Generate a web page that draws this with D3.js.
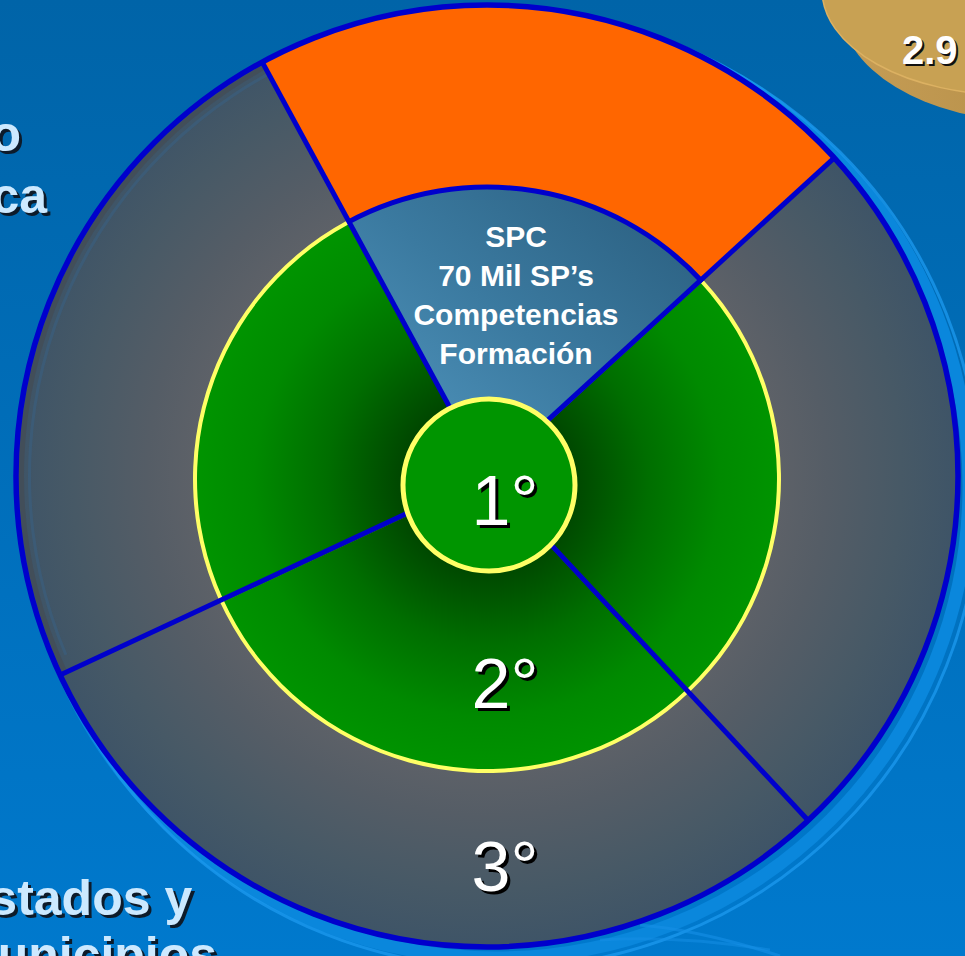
<!DOCTYPE html>
<html>
<head>
<meta charset="utf-8">
<script src="https://cdn.jsdelivr.net/npm/d3@7"></script>
<style>
  html, body { margin: 0; padding: 0; background: #0068ad; overflow: hidden; }
  svg { display: block; }
  text { font-family: "Liberation Sans", Arial, sans-serif; }
</style>
</head>
<body>
<script>
// ---- data ----
const levels = ["1°", "2°", "3°"];
const sectorEdges = [-28.5, 47.5, 137, 245, 331.5];          // degrees, clockwise from 12 o'clock
const outerSectorKinds = ["focus", "rest", "rest", "rest"];
const middleSectorKinds = ["focus", "rest", "rest", "rest"];
const focusLines = ["SPC", "70 Mil SP’s", "Competencias", "Formación"];
const sideLinesTop = ["o", "ca"];
const sideLinesBottom = ["Estados y", "Municipios"];
const badgeValue = "2.9";

// ---- layout ----
const W = 965, H = 956;
const C = { x: 487, y: 476 };       // outer ring centre
const CM = { x: 487, y: 479 };      // middle ring centre
const CI = { x: 489, y: 485 };      // inner disc centre
const R_OUT = 471, R_MID = 292, R_IN = 86;

const rad = d3.scaleLinear().domain([0, 360]).range([0, 2 * Math.PI]);

const svg = d3.select("body").append("svg").attr("width", W).attr("height", H);
const defs = svg.append("defs");

// background
const bg = defs.append("linearGradient").attr("id", "bg").attr("x1", 0).attr("y1", 0).attr("x2", 0).attr("y2", 1);
bg.append("stop").attr("offset", 0).attr("stop-color", "#0064a8");
bg.append("stop").attr("offset", 1).attr("stop-color", "#0079cd");
svg.append("rect").attr("width", W).attr("height", H).attr("fill", "url(#bg)");

// gray ring shading (group-local coordinates)
const gg = defs.append("radialGradient").attr("id", "grayRing").attr("gradientUnits", "userSpaceOnUse")
  .attr("cx", 0).attr("cy", 0).attr("r", R_OUT);
[[0.6, "#5f6268"], [0.72, "#555d66"], [0.88, "#475966"], [1, "#3e5467"]]
  .forEach(([o, c]) => gg.append("stop").attr("offset", o).attr("stop-color", c));

// green ring shading (group-local coordinates)
const gr = defs.append("radialGradient").attr("id", "greenRing").attr("gradientUnits", "userSpaceOnUse")
  .attr("cx", 0).attr("cy", 4).attr("r", R_MID);
[[0, "#002400"], [0.3, "#004800"], [0.55, "#006e00"], [0.8, "#008a00"], [1, "#009400"]]
  .forEach(([o, c]) => gr.append("stop").attr("offset", o).attr("stop-color", c));

// focus wedge shading
const fw = defs.append("linearGradient").attr("id", "focusWedge").attr("x1", 0).attr("y1", 1).attr("x2", 1).attr("y2", 0);
fw.append("stop").attr("offset", 0).attr("stop-color", "#559bc4");
fw.append("stop").attr("offset", 0.5).attr("stop-color", "#3b7aa0");
fw.append("stop").attr("offset", 1).attr("stop-color", "#295c7c");

// badge side shading
const bs = defs.append("linearGradient").attr("id", "badgeSide").attr("x1", 0).attr("y1", 0).attr("x2", 1).attr("y2", 0);
bs.append("stop").attr("offset", 0).attr("stop-color", "#c69d55");
bs.append("stop").attr("offset", 1).attr("stop-color", "#a98540");

// decorative halo rings behind the chart
svg.append("circle").attr("cx", 497).attr("cy", 486).attr("r", 472)
  .attr("fill", "none").attr("stroke", "#0a87dc").attr("stroke-width", 13);
svg.append("circle").attr("cx", 502).attr("cy", 490).attr("r", 478)
  .attr("fill", "none").attr("stroke", "#1a97ec").attr("stroke-width", 3).attr("opacity", 0.8);
svg.append("path").attr("d", "M640,925 Q700,930 780,956").attr("fill", "none")
  .attr("stroke", "#1590e6").attr("stroke-width", 3).attr("opacity", 0.6);
svg.append("path").attr("d", "M600,940 Q680,935 770,950").attr("fill", "none")
  .attr("stroke", "#1590e6").attr("stroke-width", 3).attr("opacity", 0.5);

// badge (disc seen from an angle) in the corner
svg.append("ellipse").attr("cx", 1030).attr("cy", 5).attr("rx", 190).attr("ry", 116).attr("fill", "url(#badgeSide)");
svg.append("ellipse").attr("cx", 1010).attr("cy", -10).attr("rx", 188).attr("ry", 105)
  .attr("fill", "#c8a153").attr("stroke", "#dcb162").attr("stroke-width", 1.5);
svg.append("text").attr("x", 904).attr("y", 66).attr("font-size", 40).attr("font-weight", "bold")
  .attr("fill", "#111").text(badgeValue);
svg.append("text").attr("x", 902).attr("y", 64).attr("font-size", 40).attr("font-weight", "bold")
  .attr("fill", "#ffffff").text(badgeValue);

// outer ring sectors
const sectors = sectorEdges.slice(0, -1).map((a, i) => ({ start: a, end: sectorEdges[i + 1] }));
const outerArc = d3.arc().innerRadius(0).outerRadius(R_OUT)
  .startAngle(d => rad(d.start)).endAngle(d => rad(d.end));
const gOuter = svg.append("g").attr("transform", `translate(${C.x},${C.y})`);
gOuter.selectAll("path.sector").data(sectors).join("path").attr("class", "sector")
  .attr("d", outerArc)
  .attr("fill", (d, i) => outerSectorKinds[i] === "focus" ? "#ff6600" : "url(#grayRing)");

// faint inner rim on the left part of the ring
const rimArc = d3.arc().innerRadius(463).outerRadius(468)
  .startAngle(rad(sectorEdges[3])).endAngle(rad(sectorEdges[4]));
gOuter.append("path").attr("d", rimArc()).attr("fill", "#434c56").attr("opacity", 0.8);
const rimLine = d3.arc().innerRadius(456).outerRadius(459)
  .startAngle(rad(sectorEdges[3] + 2)).endAngle(rad(sectorEdges[4]));
gOuter.append("path").attr("d", rimLine()).attr("fill", "#3c5c78").attr("opacity", 0.9);

// middle ring
const gMid = svg.append("g").attr("transform", `translate(${CM.x},${CM.y})`);
const midArc = d3.arc().innerRadius(0).outerRadius(R_MID)
  .startAngle(d => rad(d.start)).endAngle(d => rad(d.end));
gMid.selectAll("path.sector").data(sectors).join("path").attr("class", "sector")
  .attr("d", midArc)
  .attr("fill", (d, i) => middleSectorKinds[i] === "focus" ? "url(#focusWedge)" : "url(#greenRing)");

// middle ring outline: yellow around the green part, blue around the focus wedge
const outline = d3.arc().innerRadius(R_MID - 2).outerRadius(R_MID + 2);
gMid.append("path")
  .attr("d", outline({ startAngle: rad(sectorEdges[1]), endAngle: rad(sectorEdges[4]) }))
  .attr("fill", "#ffff66");
gMid.append("path")
  .attr("d", d3.arc().innerRadius(R_MID - 2.5).outerRadius(R_MID + 2.5)({ startAngle: rad(sectorEdges[0]), endAngle: rad(sectorEdges[1]) }))
  .attr("fill", "#0000cc");

// sector dividers
const gLines = svg.append("g").attr("transform", `translate(${C.x},${C.y})`);
gLines.selectAll("line").data(sectorEdges.slice(0, -1)).join("line")
  .attr("x1", d => 60 * Math.sin(rad(d))).attr("y1", d => -60 * Math.cos(rad(d)))
  .attr("x2", d => R_OUT * Math.sin(rad(d))).attr("y2", d => -R_OUT * Math.cos(rad(d)))
  .attr("stroke", "#0000cc").attr("stroke-width", 5);

// outer outline
svg.append("circle").attr("cx", C.x).attr("cy", C.y).attr("r", R_OUT)
  .attr("fill", "none").attr("stroke", "#0000cc").attr("stroke-width", 5.5);

// inner disc
svg.append("circle").attr("cx", CI.x).attr("cy", CI.y).attr("r", R_IN)
  .attr("fill", "#009500").attr("stroke", "#ffff66").attr("stroke-width", 5);

// focus wedge text
svg.append("g").selectAll("text").data(focusLines).join("text")
  .attr("x", 516).attr("y", (d, i) => 247 + i * 39)
  .attr("text-anchor", "middle").attr("font-size", 30).attr("font-weight", "bold")
  .attr("fill", "#ffffff").text(d => d);

// level labels
const levelY = [525, 708, 891];
const gLev = svg.append("g");
levels.forEach((t, i) => {
  gLev.append("text").attr("x", 508).attr("y", levelY[i] + 3).attr("text-anchor", "middle")
    .attr("font-size", 70).attr("fill", "#000").text(t);
  gLev.append("text").attr("x", 505).attr("y", levelY[i]).attr("text-anchor", "middle")
    .attr("font-size", 70).attr("fill", "#ffffff").text(t);
});

// side captions (partly off the page)
const gSide = svg.append("g").attr("font-size", 50).attr("font-weight", "bold");
const topEnds = [21, 47], topBase = [151, 213];
sideLinesTop.forEach((t, i) => {
  gSide.append("text").attr("x", topEnds[i] + 3).attr("y", topBase[i] + 3).attr("text-anchor", "end").attr("fill", "#0d1b2a").text(t);
  gSide.append("text").attr("x", topEnds[i]).attr("y", topBase[i]).attr("text-anchor", "end").attr("fill", "#cce9ff").text(t);
});
const botBase = [915, 972];
sideLinesBottom.forEach((t, i) => {
  gSide.append("text").attr("x", -41).attr("y", botBase[i] + 3).attr("fill", "#0d1b2a").text(t);
  gSide.append("text").attr("x", -44).attr("y", botBase[i]).attr("fill", "#cce9ff").text(t);
});
</script>
</body>
</html>
